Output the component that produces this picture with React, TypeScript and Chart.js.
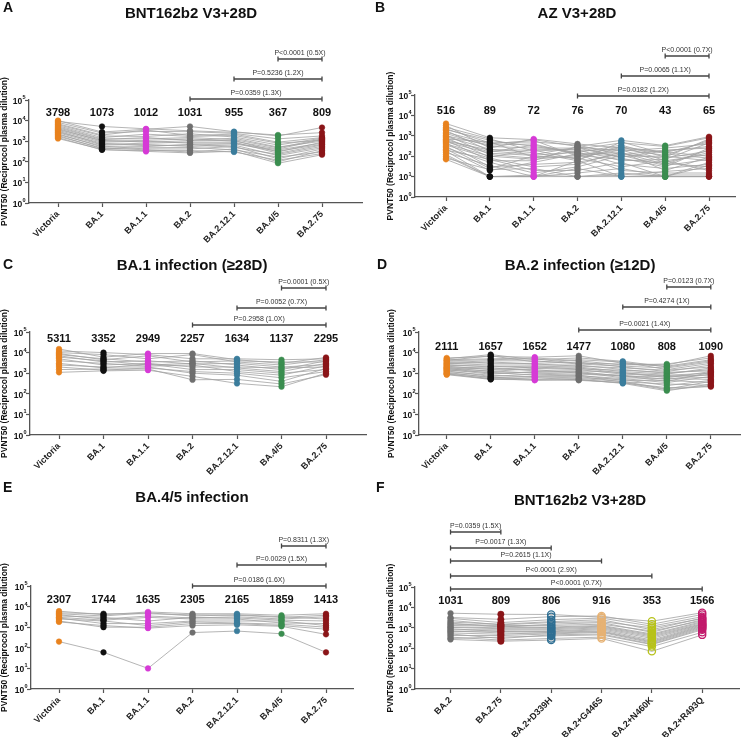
import React, { useEffect, useRef } from "react";
import { Chart, registerables } from "chart.js";

Chart.register(...registerables);

const FONT = "'Liberation Sans', Arial, Helvetica, sans-serif";
const AXIS = "#555555";
const PAGE_W = 745;
const PAGE_H = 737;

// ---------- categories & colours ----------
const variants = ["Victoria", "BA.1", "BA.1.1", "BA.2", "BA.2.12.1", "BA.4/5", "BA.2.75"];
const variantsF = ["BA.2", "BA.2.75", "BA.2+D339H", "BA.2+G446S", "BA.2+N460K", "BA.2+R493Q"];
const colorsMain = ["#e8821e", "#111111", "#d63ad6", "#6f6f6f", "#3b7d9c", "#3a8d4f", "#8a1518"];
const colorsF = ["#6f6f6f", "#8a1518", "#2f6f93", "#e6b274", "#b7c21a", "#c21a6b"];
const hollowMain = [false, false, false, false, false, false, false];
const hollowF = [false, false, true, true, true, true];
const yTickExponents = [0, 1, 2, 3, 4, 5];

// ---------- panel A: BNT162b2 V3+28D (rows = subjects) ----------
const subjectsA = [
  [10000, 2800, 3800, 5200, 2900, 1800, 4600],
  [9200, 5200, 4000, 3200, 2700, 2000, 2600],
  [8200, 2500, 3000, 2900, 2400, 1300, 1800],
  [7000, 2000, 3500, 1900, 2200, 900, 1500],
  [6300, 1800, 1700, 2300, 1600, 650, 1400],
  [5600, 1500, 2200, 1700, 1900, 800, 1100],
  [5000, 1300, 1300, 1500, 1200, 480, 1300],
  [4500, 1200, 1500, 1100, 1400, 520, 1000],
  [4100, 1000, 1100, 1300, 1000, 420, 1200],
  [3700, 1100, 900, 1050, 1100, 300, 900],
  [3400, 900, 1000, 800, 800, 380, 800],
  [3100, 700, 800, 900, 900, 260, 650],
  [2800, 800, 600, 650, 750, 330, 700],
  [2600, 650, 700, 560, 650, 200, 480],
  [2300, 520, 550, 700, 500, 230, 560],
  [2100, 580, 420, 420, 560, 140, 420],
  [1900, 430, 480, 500, 380, 170, 300],
  [1700, 470, 380, 300, 420, 100, 350],
  [1500, 380, 350, 350, 300, 120, 250],
  [1350, 400, 320, 270, 330, 85, 220],
];
const gmtA = ["3798", "1073", "1012", "1031", "955", "367", "809"];
const bracketsA: [number, number, string][] = [
  [3, 6, "P=0.0359 (1.3X)"],
  [4, 6, "P=0.5236 (1.2X)"],
  [5, 6, "P<0.0001 (0.5X)"],
];

// ---------- panel B: AZ V3+28D ----------
const subjectsB = [
  [4000, 800, 650, 300, 600, 330, 900],
  [3200, 250, 700, 400, 250, 150, 500],
  [2600, 700, 180, 220, 450, 300, 800],
  [2200, 450, 500, 350, 120, 200, 250],
  [2000, 600, 300, 150, 350, 90, 700],
  [1800, 180, 120, 280, 180, 250, 400],
  [1500, 400, 600, 100, 300, 60, 120],
  [1300, 300, 250, 250, 90, 180, 300],
  [1100, 120, 80, 180, 220, 110, 600],
  [1000, 350, 400, 120, 150, 40, 200],
  [900, 220, 150, 60, 500, 130, 80],
  [800, 90, 220, 200, 60, 70, 450],
  [700, 500, 90, 90, 200, 50, 150],
  [650, 160, 350, 140, 100, 100, 60],
  [600, 60, 60, 300, 80, 30, 250],
  [550, 200, 200, 70, 280, 160, 100],
  [500, 140, 110, 160, 40, 25, 40],
  [450, 30, 40, 50, 130, 80, 180],
  [400, 100, 70, 110, 70, 45, 30],
  [350, 80, 30, 40, 160, 20, 90],
  [300, 25, 100, 80, 30, 60, 20],
  [260, 50, 15, 30, 110, 35, 70],
  [220, 20, 50, 130, 20, 15, 15],
  [200, 70, 20, 20, 50, 10, 50],
  [180, 10, 10, 60, 10, 12, 12],
  [150, 35, 10, 15, 25, 10, 10],
  [120, 10, 12, 10, 12, 18, 25],
  [100, 10, 10, 25, 10, 10, 10],
  [80, 22, 25, 10, 15, 10, 35],
  [70, 10, 10, 10, 10, 10, 10],
];
const gmtB = ["516", "89", "72", "76", "70", "43", "65"];
const bracketsB: [number, number, string][] = [
  [3, 6, "P=0.0182 (1.2X)"],
  [4, 6, "P=0.0065 (1.1X)"],
  [5, 6, "P<0.0001 (0.7X)"],
];

// ---------- panel C: BA.1 infection ----------
const subjectsC = [
  [15000, 6000, 9000, 9000, 4500, 3000, 5800],
  [12000, 10000, 8000, 5000, 5000, 4500, 5000],
  [10000, 8000, 5000, 8000, 3500, 2500, 4500],
  [9000, 4500, 7000, 3500, 4000, 3500, 3500],
  [8000, 5000, 3500, 4000, 2500, 1500, 4000],
  [7000, 3500, 4000, 2800, 3000, 2000, 2600],
  [6000, 4000, 2500, 3000, 1800, 1200, 3000],
  [5000, 2500, 3000, 2000, 2000, 1800, 2000],
  [4000, 3000, 2200, 2500, 1200, 800, 2300],
  [3000, 1800, 2800, 1500, 1500, 1000, 1500],
  [2500, 2000, 2000, 1000, 800, 400, 1700],
  [2000, 1400, 1800, 1200, 1000, 600, 1200],
  [1500, 1600, 1600, 480, 500, 300, 850],
  [1100, 1300, 1400, 700, 320, 220, 1000],
];
const gmtC = ["5311", "3352", "2949", "2257", "1634", "1137", "2295"];
const bracketsC: [number, number, string][] = [
  [3, 6, "P=0.2958 (1.0X)"],
  [4, 6, "P=0.0052 (0.7X)"],
  [5, 6, "P=0.0001 (0.5X)"],
];

// ---------- panel D: BA.2 infection ----------
const subjectsD = [
  [5500, 6500, 6000, 7000, 3000, 2500, 7000],
  [5000, 8000, 4500, 5500, 3800, 2000, 4000],
  [4500, 5000, 5500, 4000, 2500, 2800, 5500],
  [4200, 7000, 3500, 4500, 3500, 1500, 3000],
  [4000, 4500, 5000, 3000, 2800, 2200, 4500],
  [3600, 3000, 3000, 3500, 2000, 1200, 2500],
  [3300, 4000, 4000, 2800, 2200, 1800, 3500],
  [3000, 2500, 2500, 2500, 1500, 1000, 1500],
  [2800, 3500, 2800, 2200, 1800, 1400, 2000],
  [2600, 2000, 2200, 2000, 1200, 900, 1800],
  [2400, 2200, 1800, 1800, 1000, 800, 1000],
  [2200, 1500, 2000, 1600, 1400, 1100, 1300],
  [2000, 1800, 1300, 1300, 1100, 600, 1200],
  [1900, 1200, 1700, 1500, 900, 750, 800],
  [1800, 1600, 1500, 1000, 800, 500, 900],
  [1700, 1000, 1100, 1200, 700, 700, 600],
  [1600, 1300, 1000, 900, 750, 400, 1100],
  [1500, 900, 1200, 1100, 600, 550, 500],
  [1400, 1100, 800, 750, 550, 350, 700],
  [1300, 700, 900, 800, 450, 450, 350],
  [1200, 800, 650, 600, 500, 250, 450],
  [1100, 600, 700, 700, 380, 300, 260],
  [1000, 650, 500, 550, 400, 170, 400],
  [950, 520, 600, 480, 340, 200, 220],
  [900, 550, 450, 500, 320, 140, 300],
  [850, 500, 480, 450, 350, 160, 240],
];
const gmtD = ["2111", "1657", "1652", "1477", "1080", "808", "1090"];
const bracketsD: [number, number, string][] = [
  [3, 6, "P=0.0021 (1.4X)"],
  [4, 6, "P=0.4274 (1X)"],
  [5, 6, "P=0.0123 (0.7X)"],
];

// ---------- panel E: BA.4/5 infection ----------
const subjectsE = [
  [200, 60, 10, 550, 650, 480, 60],
  [6000, 4000, 5500, 4500, 4500, 3800, 4500],
  [5000, 4500, 4500, 4000, 3800, 3000, 3800],
  [4500, 3500, 5000, 3500, 4000, 3200, 2500],
  [4000, 2500, 3500, 2800, 3200, 2500, 3200],
  [3500, 3000, 2000, 3000, 2800, 2200, 2000],
  [3000, 2200, 3000, 2500, 2500, 1600, 1500],
  [2800, 1500, 1500, 2000, 2000, 2000, 1200],
  [2500, 2000, 1200, 1800, 1600, 1400, 1000],
  [2000, 1000, 1000, 1500, 1500, 1200, 800],
  [1800, 1200, 900, 1200, 1300, 1100, 450],
];
const gmtE = ["2307", "1744", "1635", "2305", "2165", "1859", "1413"];
const bracketsE: [number, number, string][] = [
  [3, 6, "P=0.0186 (1.6X)"],
  [4, 6, "P=0.0029 (1.5X)"],
  [5, 6, "P=0.8311 (1.3X)"],
];

// ---------- panel F: BNT162b2 V3+28D, BA.2 point mutants ----------
const subjectsF = [
  [5200, 4600, 4500, 3300, 2100, 5500],
  [3200, 2600, 3500, 3800, 1500, 4500],
  [2900, 1800, 2500, 3000, 1200, 3500],
  [1900, 1500, 2000, 2500, 800, 3000],
  [2300, 1400, 1800, 2000, 1000, 2800],
  [1700, 1100, 1500, 1800, 600, 2500],
  [1500, 1300, 1300, 1500, 700, 2200],
  [1100, 1000, 1100, 1300, 500, 2000],
  [1300, 1200, 1000, 1200, 450, 1800],
  [1050, 900, 900, 1100, 400, 1600],
  [800, 800, 800, 1000, 350, 1500],
  [900, 650, 700, 900, 300, 1400],
  [650, 700, 650, 800, 250, 1300],
  [560, 480, 600, 700, 220, 1200],
  [700, 560, 550, 650, 200, 1100],
  [420, 420, 500, 600, 180, 1000],
  [500, 300, 450, 500, 160, 900],
  [300, 350, 400, 450, 150, 800],
  [350, 250, 300, 350, 120, 600],
  [270, 220, 250, 300, 70, 450],
];
const gmtF = ["1031", "809", "806", "916", "353", "1566"];
const bracketsF: [number, number, string][] = [
  [0, 1, "P=0.0359 (1.5X)"],
  [0, 2, "P=0.0017 (1.3X)"],
  [0, 3, "P=0.2615 (1.1X)"],
  [0, 4, "P<0.0001 (2.9X)"],
  [0, 5, "P<0.0001 (0.7X)"],
];

// ---------- layout (page pixels) ----------
interface PanelSpec {
  letter: string;
  title: string;
  labels: string[];
  colors: string[];
  hollow: boolean[];
  rows: number[][];
  gmt: string[];
  brackets: [number, number, string][];
  axisLeft: number;
  axisRight: number;
  firstCat: number;
  lastCat: number;
  plotTop: number;
  plotBottom: number;
  titleX: number;
  titleY: number;
  letterX: number;
  letterY: number;
  yTitleX: number;
  gmtY: number;
  bracketYs: number[];
}

const panels: PanelSpec[] = [
  {
    letter: "A", title: "BNT162b2 V3+28D", labels: variants, colors: colorsMain, hollow: hollowMain,
    rows: subjectsA, gmt: gmtA, brackets: bracketsA,
    axisLeft: 29, axisRight: 362, firstCat: 58, lastCat: 322, plotTop: 100, plotBottom: 203,
    titleX: 191, titleY: 14, letterX: 3, letterY: 8, yTitleX: 5, gmtY: 113, bracketYs: [99, 79, 59],
  },
  {
    letter: "B", title: "AZ V3+28D", labels: variants, colors: colorsMain, hollow: hollowMain,
    rows: subjectsB, gmt: gmtB, brackets: bracketsB,
    axisLeft: 415, axisRight: 735, firstCat: 446, lastCat: 709, plotTop: 95, plotBottom: 197,
    titleX: 577, titleY: 14, letterX: 375, letterY: 8, yTitleX: 391, gmtY: 111, bracketYs: [96, 76, 56],
  },
  {
    letter: "C", title: "BA.1 infection (\u226528D)", labels: variants, colors: colorsMain, hollow: hollowMain,
    rows: subjectsC, gmt: gmtC, brackets: bracketsC,
    axisLeft: 30, axisRight: 366, firstCat: 59, lastCat: 326, plotTop: 332, plotBottom: 435,
    titleX: 192, titleY: 266, letterX: 3, letterY: 265, yTitleX: 5, gmtY: 339, bracketYs: [325, 308, 288],
  },
  {
    letter: "D", title: "BA.2 infection (\u226512D)", labels: variants, colors: colorsMain, hollow: hollowMain,
    rows: subjectsD, gmt: gmtD, brackets: bracketsD,
    axisLeft: 419, axisRight: 744, firstCat: 447, lastCat: 714, plotTop: 332, plotBottom: 435,
    titleX: 580, titleY: 266, letterX: 377, letterY: 265, yTitleX: 392, gmtY: 347, bracketYs: [330, 307, 287],
  },
  {
    letter: "E", title: "BA.4/5 infection", labels: variants, colors: colorsMain, hollow: hollowMain,
    rows: subjectsE, gmt: gmtE, brackets: bracketsE,
    axisLeft: 31, axisRight: 353, firstCat: 59, lastCat: 326, plotTop: 586, plotBottom: 689,
    titleX: 192, titleY: 498, letterX: 3, letterY: 488, yTitleX: 5, gmtY: 600, bracketYs: [586, 565, 546],
  },
  {
    letter: "F", title: "BNT162b2 V3+28D", labels: variantsF, colors: colorsF, hollow: hollowF,
    rows: subjectsF, gmt: gmtF, brackets: bracketsF,
    axisLeft: 415, axisRight: 744, firstCat: 451, lastCat: 706, plotTop: 587, plotBottom: 689,
    titleX: 580, titleY: 501, letterX: 376, letterY: 488, yTitleX: 391, gmtY: 601, bracketYs: [532, 548, 561, 576, 589],
  },
];

const Y_SCALE_W = 5;
const X_SCALE_H = 48;

function annotationPlugin(p: PanelSpec) {
  return {
    id: "annot" + p.letter,
    afterDraw(chart: any) {
      const { ctx, chartArea: ca } = chart;
      const xs = chart.scales.x;
      const ys = chart.scales.y;
      ctx.save();
      ctx.fillStyle = "#111111";
      ctx.textBaseline = "middle";

      ctx.font = `bold 14px ${FONT}`;
      ctx.textAlign = "left";
      ctx.fillText(p.letter, p.letterX, p.letterY);

      ctx.font = `bold 15px ${FONT}`;
      ctx.textAlign = "center";
      ctx.fillText(p.title, p.titleX, p.titleY);

      // y tick labels 10^n
      for (const e of yTickExponents) {
        const y = ys.getPixelForValue(Math.pow(10, e));
        const right = ca.left - 3.5;
        const sup = String(e);
        ctx.font = `bold 5.5px ${FONT}`;
        const sw = ctx.measureText(sup).width;
        ctx.textAlign = "right";
        ctx.fillText(sup, right, y - 2.5);
        ctx.font = `bold 8.5px ${FONT}`;
        ctx.fillText("10", right - sw - 0.3, y + 1.5);
      }

      // y-axis title
      ctx.save();
      ctx.translate(p.yTitleX, (ca.top + ca.bottom) / 2);
      ctx.rotate(-Math.PI / 2);
      ctx.font = `bold 8.5px ${FONT}`;
      ctx.textAlign = "center";
      ctx.fillText("PVNT50 (Reciprocol plasma dilution)", 0, 0);
      ctx.restore();

      // geometric mean labels
      ctx.font = `bold 11px ${FONT}`;
      ctx.textAlign = "center";
      p.gmt.forEach((g, i) => ctx.fillText(g, xs.getPixelForValue(i), p.gmtY));

      // significance brackets
      ctx.strokeStyle = "#444444";
      ctx.lineWidth = 1.3;
      p.brackets.forEach(([a, b, label], j) => {
        const x1 = xs.getPixelForValue(a);
        const x2 = xs.getPixelForValue(b);
        const y = p.bracketYs[j];
        ctx.beginPath();
        ctx.moveTo(x1, y);
        ctx.lineTo(x2, y);
        ctx.moveTo(x1, y - 2.5);
        ctx.lineTo(x1, y + 2.5);
        ctx.moveTo(x2, y - 2.5);
        ctx.lineTo(x2, y + 2.5);
        ctx.stroke();
        ctx.font = `7px ${FONT}`;
        ctx.fillStyle = "#333333";
        ctx.fillText(label, (x1 + x2) / 2, y - 6);
      });
      ctx.restore();
    },
  };
}

function Panel({ spec }: { spec: PanelSpec }) {
  const ref = useRef<HTMLCanvasElement>(null);
  useEffect(() => {
    const p = spec;
    const n = p.labels.length;
    const unit = (p.lastCat - p.firstCat) / (n - 1);
    const xMin = -(p.firstCat - p.axisLeft) / unit;
    const xMax = n - 1 + (p.axisRight - p.lastCat) / unit;

    const lineSets = p.rows.map((row) => ({
      type: "line",
      data: row.map((v, i) => ({ x: i, y: v })),
      borderColor: "#a2a2a2",
      borderWidth: 0.8,
      pointRadius: 0,
      tension: 0,
      fill: false,
      order: 2,
    }));
    const pointSets = p.labels.map((_, i) => ({
      type: "line",
      data: p.rows.map((row) => ({ x: i, y: row[i] })),
      showLine: false,
      pointRadius: p.hollow[i] ? 3.6 : i === 1 && p.letter === "F" ? 3.2 : 2.8,
      pointBorderWidth: p.hollow[i] ? 1.3 : 0.5,
      pointBackgroundColor: p.hollow[i] ? "rgba(255,255,255,0)" : p.colors[i],
      pointBorderColor: p.colors[i],
      borderColor: p.colors[i],
      order: 1,
    }));

    const grid = {
      drawOnChartArea: false,
      drawTicks: true,
      tickLength: 4,
      tickColor: AXIS,
      tickWidth: 1.2,
    };
    const border = { display: true, color: AXIS, width: 1.3 };

    const chart = new Chart(ref.current as HTMLCanvasElement, {
      type: "line",
      data: { datasets: [...pointSets, ...lineSets] as any },
      options: {
        responsive: false,
        animation: false,
        events: [],
        layout: {
          padding: {
            left: p.axisLeft - Y_SCALE_W,
            right: PAGE_W - p.axisRight,
            top: p.plotTop,
            bottom: PAGE_H - p.plotBottom - X_SCALE_H,
          },
        },
        plugins: { legend: { display: false }, tooltip: { enabled: false }, title: { display: false } },
        scales: {
          x: {
            type: "linear",
            min: xMin,
            max: xMax,
            afterBuildTicks: (s: any) => {
              s.ticks = p.labels.map((_, i) => ({ value: i }));
            },
            afterFit: (s: any) => {
              s.height = X_SCALE_H;
              s.paddingLeft = 0;
              s.paddingRight = 0;
            },
            ticks: {
              autoSkip: false,
              minRotation: 45,
              maxRotation: 45,
              padding: 2,
              color: "#222222",
              font: { family: FONT, weight: "bold", size: 9 },
              callback: (v: any) => p.labels[v] ?? "",
            },
            grid,
            border,
          },
          y: {
            type: "logarithmic",
            min: 1,
            max: 100000,
            afterBuildTicks: (s: any) => {
              s.ticks = yTickExponents.map((e) => ({ value: Math.pow(10, e), major: true }));
            },
            afterFit: (s: any) => {
              s.width = Y_SCALE_W;
              s.paddingTop = 0;
              s.paddingBottom = 0;
            },
            ticks: { display: false },
            grid,
            border,
          },
        } as any,
      },
      plugins: [annotationPlugin(p)],
    } as any);
    return () => chart.destroy();
  }, [spec]);
  return (
    <canvas
      ref={ref}
      width={PAGE_W}
      height={PAGE_H}
      style={{ position: "absolute", left: 0, top: 0, width: PAGE_W, height: PAGE_H }}
    />
  );
}

export default function App() {
  return (
    <div
      style={{
        position: "absolute",
        left: 0,
        top: 0,
        width: PAGE_W,
        height: PAGE_H,
        background: "#ffffff",
        overflow: "hidden",
      }}
    >
      {panels.map((p) => (
        <Panel key={p.letter} spec={p} />
      ))}
    </div>
  );
}
